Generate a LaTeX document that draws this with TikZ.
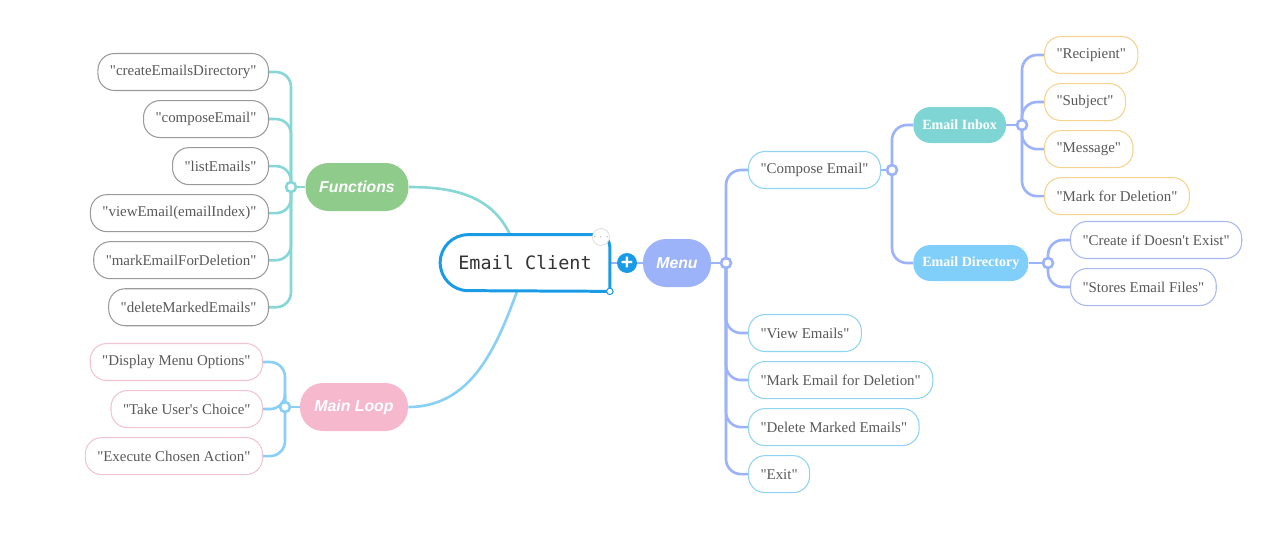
\documentclass[tikz,border=0pt]{standalone}
\usepackage{fontspec}
\newfontfamily\leaffont{Liberation Serif}
\newfontfamily\monofont{DejaVu Sans Mono}
\newfontfamily\handfont{Liberation Sans}
\usepackage{tikz}
\usetikzlibrary{positioning, backgrounds, calc}

\definecolor{rootblue}{HTML}{1A9BE6}
\definecolor{funcgreen}{HTML}{8FCC8C}
\definecolor{looppink}{HTML}{F5B8CD}
\definecolor{menublue}{HTML}{9CB3FA}
\definecolor{inboxteal}{HTML}{7ED5D4}
\definecolor{dirblue}{HTML}{80CFFA}
\definecolor{tealline}{HTML}{86D7D6}
\definecolor{skyline}{HTML}{8AD0F5}
\definecolor{periline}{HTML}{9DB3F9}
\definecolor{grayline}{HTML}{9A9A9A}
\definecolor{pinkline}{HTML}{F2C4D3}
\definecolor{skyborder}{HTML}{8FD3F5}
\definecolor{orangeline}{HTML}{F6D38E}
\definecolor{periborder}{HTML}{A9B7F2}
\definecolor{txtgray}{HTML}{595959}

\begin{document}
\begin{tikzpicture}[
    x=0.02cm, y=0.02cm,
    rootnode/.style={minimum width=3.38cm, minimum height=1.12cm, inner sep=0pt,
                     text=black!80, font=\monofont\fontsize{10.5}{12}\selectfont},
    topic/.style={rectangle, rounded corners=0.46cm, minimum height=0.96cm, inner xsep=0pt,
                  text=white, font=\handfont\bfseries\itshape\fontsize{9}{11}\selectfont},
    subtopic/.style={rectangle, rounded corners=0.34cm, minimum height=0.72cm, inner xsep=0.18cm,
                     text=white, font=\leaffont\bfseries\fontsize{8}{10}\selectfont},
    leaf/.style={rectangle, rounded corners=0.33cm, draw, line width=0.6pt, fill=white,
                 minimum height=0.74cm, inner xsep=0.24cm, text=txtgray,
                 font=\leaffont\fontsize{8.5}{10}\selectfont},
    hub/.style={circle, draw, fill=white, line width=1.5pt, inner sep=0pt, minimum size=0.2cm},
    link/.style={line width=1.5pt, rounded corners=0.3cm}
]
\useasboundingbox (0,0) rectangle (1280,-538);

% centre
\node[rootnode] (root) at (525,-263) {Email Client};
\draw[line width=1.7pt, rootblue, line cap=rect]
    (root.south east) -- ([yshift=-0.24cm]root.north east)
    arc[start angle=0, end angle=90, radius=0.24cm]
    -- ([xshift=0.56cm]root.north west)
    arc[start angle=90, end angle=270, radius=0.56cm]
    -- (root.south east);
\node[circle, draw=rootblue, fill=white, line width=0.6pt, inner sep=0pt,
      minimum size=0.13cm] (handle) at (root.south east) {};
\node[circle, draw=black!15, fill=white, line width=0.4pt, inner sep=0pt, minimum size=0.3cm,
      text=black!50, font=\fontsize{5}{5}\selectfont] (more) at (601,-237) {$\cdots$};
\node[circle, fill=rootblue, inner sep=0pt, minimum size=0.4cm, text=white,
      font=\handfont\bfseries\fontsize{12}{12}\selectfont] (addbtn) at (627,-263) {+};

% main topics
\node[topic, fill=funcgreen, minimum width=2.06cm] (functions) at (357,-187) {Functions};
\node[topic, fill=looppink, minimum width=2.16cm] (mainloop) at (354,-407) {Main Loop};
\node[topic, fill=menublue, minimum width=1.36cm] (menu) at (677,-263) {Menu};

% hubs
\node[hub, draw=tealline] (fhub) at (291,-187) {};
\node[hub, draw=skyline] (lhub) at (285,-407) {};
\node[hub, draw=periline] (mhub) at (726,-263) {};
\node[hub, draw=periline] (chub) at (892,-170) {};
\node[hub, draw=periline] (ihub) at (1022,-125) {};
\node[hub, draw=periline] (dhub) at (1048,-263) {};

% functions
\node[leaf, draw=grayline, anchor=east] (f1) at (269,-72) {"createEmailsDirectory"};
\node[leaf, draw=grayline, below=0.18cm of f1.south east, anchor=north east] (f2) {"composeEmail"};
\node[leaf, draw=grayline, below=0.18cm of f2.south east, anchor=north east] (f3) {"listEmails"};
\node[leaf, draw=grayline, below=0.18cm of f3.south east, anchor=north east] (f4) {"viewEmail(emailIndex)"};
\node[leaf, draw=grayline, below=0.18cm of f4.south east, anchor=north east] (f5) {"markEmailForDeletion"};
\node[leaf, draw=grayline, below=0.18cm of f5.south east, anchor=north east] (f6) {"deleteMarkedEmails"};

% main loop
\node[leaf, draw=pinkline, anchor=east] (l1) at (263,-362) {"Display Menu Options"};
\node[leaf, draw=pinkline, below=0.18cm of l1.south east, anchor=north east] (l2) {"Take User's Choice"};
\node[leaf, draw=pinkline, below=0.18cm of l2.south east, anchor=north east] (l3) {"Execute Chosen Action"};

% menu
\node[leaf, draw=skyborder, anchor=west] (compose) at (748,-170) {"Compose Email"};
\node[leaf, draw=skyborder, anchor=west] (view) at (748,-333) {"View Emails"};
\node[leaf, draw=skyborder, below=0.18cm of view.south west, anchor=north west] (markdel) {"Mark Email for Deletion"};
\node[leaf, draw=skyborder, below=0.18cm of markdel.south west, anchor=north west] (delmarked) {"Delete Marked Emails"};
\node[leaf, draw=skyborder, below=0.18cm of delmarked.south west, anchor=north west] (exit) {"Exit"};

\node[subtopic, fill=inboxteal, anchor=west] (inbox) at (913,-125) {Email Inbox};
\node[subtopic, fill=dirblue, anchor=west] (directory) at (913,-263) {Email Directory};

\node[leaf, draw=orangeline, anchor=west] (r1) at (1044,-55) {"Recipient"};
\node[leaf, draw=orangeline, below=0.18cm of r1.south west, anchor=north west] (r2) {"Subject"};
\node[leaf, draw=orangeline, below=0.18cm of r2.south west, anchor=north west] (r3) {"Message"};
\node[leaf, draw=orangeline, below=0.18cm of r3.south west, anchor=north west] (r4) {"Mark for Deletion"};

\node[leaf, draw=periborder, anchor=west] (s1) at (1070,-240) {"Create if Doesn't Exist"};
\node[leaf, draw=periborder, below=0.18cm of s1.south west, anchor=north west] (s2) {"Stores Email Files"};

% connectors
\begin{scope}[on background layer]
\draw[link, tealline] (functions.east) to[out=0, in=115] ([xshift=-0.3cm]root.north);
\draw[link, skyline] ([xshift=-0.16cm]root.south) to[out=-110, in=0] (mainloop.east);
\draw[link, periline] (root.east) -- (menu.west);

\draw[link, tealline] (functions.west) -- (fhub);
\foreach \n in {f1,f2,f3,f4,f5,f6}
  \draw[link, tealline] (\n.east) -| (fhub.center);

\draw[link, skyline] (mainloop.west) -- (lhub);
\foreach \n in {l1,l2,l3}
  \draw[link, skyline] (\n.east) -| (lhub.center);

\draw[link, periline] (menu.east) -- (mhub);
\foreach \n in {compose,view,markdel,delmarked,exit}
  \draw[link, periline] (mhub.center) |- (\n.west);

\draw[link, periline] (compose.east) -- (chub);
\draw[link, periline] (chub.center) |- (inbox.west);
\draw[link, periline] (chub.center) |- (directory.west);

\draw[link, periline] (inbox.east) -- (ihub);
\foreach \n in {r1,r2,r3,r4}
  \draw[link, periline] (ihub.center) |- (\n.west);

\draw[link, periline] (directory.east) -- (dhub);
\foreach \n in {s1,s2}
  \draw[link, periline] (dhub.center) |- (\n.west);
\end{scope}
\end{tikzpicture}
\end{document}
